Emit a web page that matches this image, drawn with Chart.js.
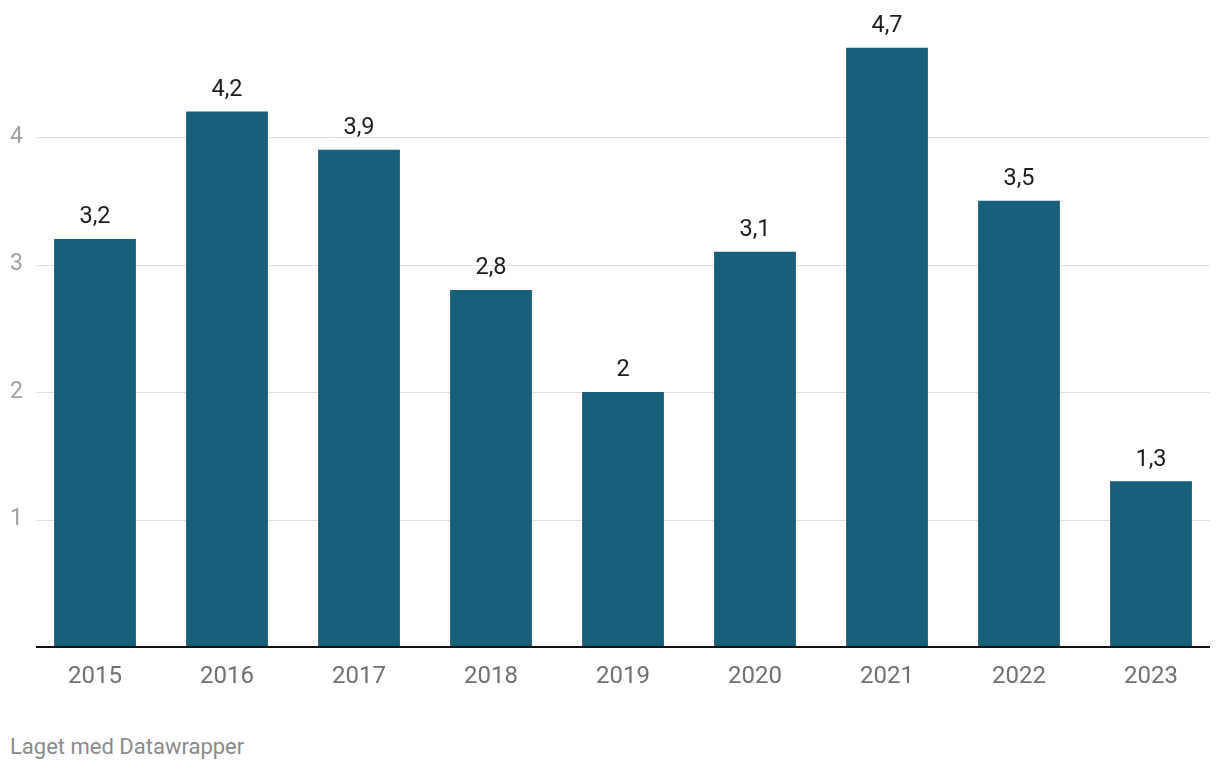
<!DOCTYPE html>
<html>
<head>
<meta charset="utf-8">
<script src="https://cdn.jsdelivr.net/npm/chart.js@4"></script>
<style>
  html, body { margin: 0; padding: 0; background: #fff; }
  #wrap { position: relative; width: 1220px; height: 700px; }
  #foot { position: absolute; left: 10px; top: 734px; font: 22px Roboto, sans-serif; color: #8a8a8a; }
</style>
</head>
<body>
<div id="wrap"><canvas id="chart"></canvas></div>
<div id="foot">Laget med Datawrapper</div>
<script>
const years = ['2015', '2016', '2017', '2018', '2019', '2020', '2021', '2022', '2023'];
const values = [3.2, 4.2, 3.9, 2.8, 2.0, 3.1, 4.7, 3.5, 1.3];
const yTicks = [1, 2, 3, 4];

const barColor = '#17607a';

// grid lines between x 36 and 1210, baseline in black
const gridLines = {
    id: 'gridLines',
    beforeDatasetsDraw(chart) {
        const ctx = chart.ctx;
        const y = chart.scales.y;
        ctx.save();
        ctx.strokeStyle = '#e0e0e0';
        ctx.lineWidth = 1;
        yTicks.forEach(t => {
            const py = Math.round(y.getPixelForValue(t)) + 0.5;
            ctx.beginPath();
            ctx.moveTo(36, py);
            ctx.lineTo(1210, py);
            ctx.stroke();
        });
        ctx.restore();
    },
    afterDatasetsDraw(chart) {
        const ctx = chart.ctx;
        const py = chart.scales.y.getPixelForValue(0);
        ctx.save();
        ctx.strokeStyle = '#111';
        ctx.lineWidth = 2;
        ctx.beginPath();
        ctx.moveTo(36, py);
        ctx.lineTo(1210, py);
        ctx.stroke();
        ctx.restore();
    }
};

const valueLabels = {
    id: 'valueLabels',
    afterDatasetsDraw(chart) {
        const ctx = chart.ctx;
        const meta = chart.getDatasetMeta(0);
        ctx.save();
        ctx.font = '23.5px Roboto, sans-serif';
        ctx.fillStyle = '#1d1d1d';
        ctx.textAlign = 'center';
        ctx.textBaseline = 'middle';
        meta.data.forEach((bar, i) => {
            const txt = String(values[i]).replace('.', ',');
            ctx.fillText(txt, bar.x, bar.y - 21.5);
        });
        ctx.restore();
    }
};

new Chart(document.getElementById('chart'), {
    type: 'bar',
    data: {
        labels: years,
        datasets: [{
            data: values,
            backgroundColor: barColor,
            categoryPercentage: 1,
            barPercentage: 0.62,
        }]
    },
    plugins: [gridLines, valueLabels],
    options: {
        responsive: true,
        maintainAspectRatio: false,
        animation: false,
        layout: { padding: { top: 9.5, right: 3, left: 10, bottom: 0 } },
        plugins: { legend: { display: false }, tooltip: { enabled: false } },
        scales: {
            x: {
                grid: { display: false, drawTicks: false },
                border: { display: false },
                ticks: {
                    color: '#707070',
                    font: { family: 'Roboto', size: 24 },
                    padding: 16,
                },
                afterFit(scale) { scale.height = 53; }
            },
            y: {
                min: 0,
                max: 5,
                grid: { display: false, drawTicks: false },
                border: { display: false },
                ticks: {
                    stepSize: 1,
                    color: '#a0a0a0',
                    font: { family: 'Roboto', size: 23 },
                    crossAlign: 'far',
                    padding: 0,
                    callback: v => yTicks.includes(v) ? String(v) : '',
                },
                afterFit(scale) {
                    scale.width = 19;
                    scale.paddingTop = 0;
                    scale.paddingBottom = 0;
                }
            }
        }
    }
});
</script>
</body>
</html>
